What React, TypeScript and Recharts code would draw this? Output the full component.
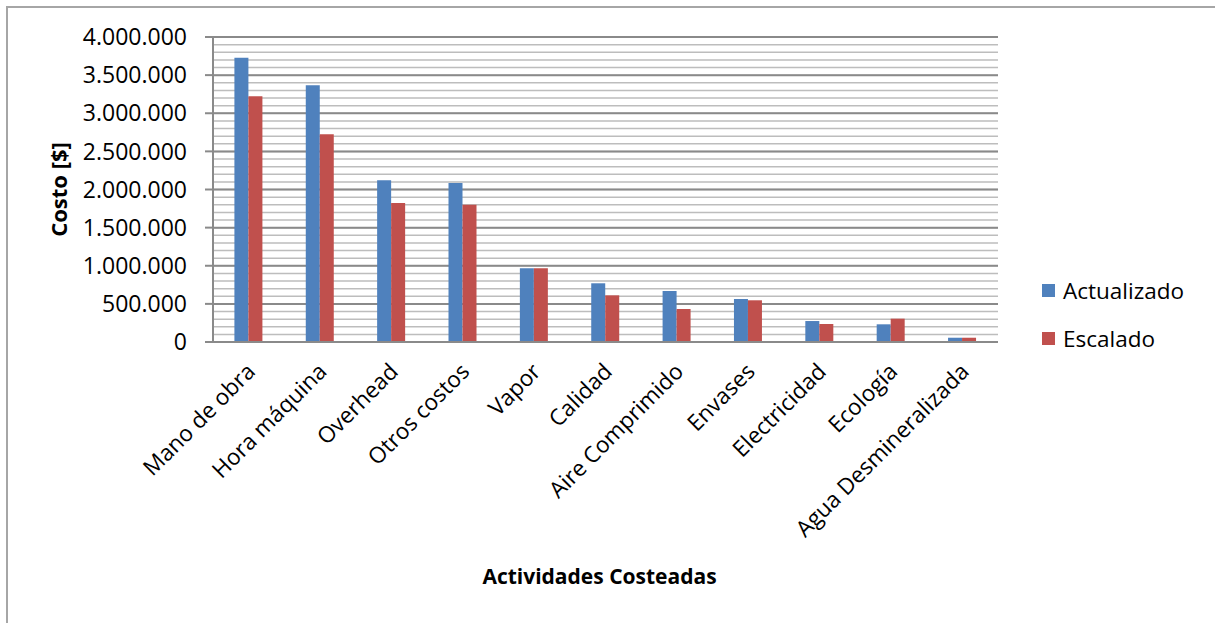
import { BarChart, Bar, XAxis, YAxis, CartesianGrid } from 'recharts';

// Costos por actividad (en $)
const actividades = [
  'Mano de obra',
  'Hora máquina',
  'Overhead',
  'Otros costos',
  'Vapor',
  'Calidad',
  'Aire Comprimido',
  'Envases',
  'Electricidad',
  'Ecología',
  'Agua Desmineralizada',
];
const actualizado = [3728000, 3366000, 2121000, 2085000, 966000, 770000, 669000, 564000, 275000, 232000, 56000];
const escalado = [3222000, 2724000, 1823000, 1801000, 966000, 612000, 433000, 547000, 236000, 306000, 56000];

const yTicks = [0, 500000, 1000000, 1500000, 2000000, 2500000, 3000000, 3500000, 4000000];
const minorLines = Array.from({ length: 41 }, (_, i) => i * 100000);

const series = [
  { key: 'actualizado', label: 'Actualizado', color: '#4F81BD' },
  { key: 'escalado', label: 'Escalado', color: '#C0504D' },
];

const FONT = '"Open Sans", Lato, sans-serif';

const data = actividades.map((a, i) => ({
  actividad: a,
  actualizado: actualizado[i],
  escalado: escalado[i],
}));

const fmt = (v: number) => String(v).replace(/\B(?=(\d{3})+(?!\d))/g, '.');

function CategoryTick({ x, y, payload }: any) {
  const px = x + 8;
  const py = y + 23;
  return (
    <text
      x={px}
      y={py}
      transform={`rotate(-45, ${px}, ${py})`}
      textAnchor="end"
      fontSize={22.5}
      fontFamily={FONT}
      fill="#000"
    >
      {payload.value}
    </text>
  );
}

export default function App() {
  return (
    <div style={{ position: 'absolute', left: 0, top: 0, width: 1215, height: 623, overflow: 'hidden', background: '#fff' }}>
      <div
        style={{
          position: 'absolute',
          left: 6,
          top: 6,
          width: 1400,
          height: 800,
          border: '2px solid #a6a6a6',
          boxSizing: 'border-box',
        }}
      />
      <div style={{ position: 'absolute', left: 0, top: 0 }}>
        <BarChart
          width={1215}
          height={623}
          data={data}
          margin={{ top: 37, right: 217, bottom: 131, left: 93 }}
          barCategoryGap="30%"
          barGap={0}
        >
          <CartesianGrid
            horizontal
            vertical={false}
            horizontalValues={minorLines}
            stroke="#bdbdbd"
            strokeWidth={1.5}
          />
          <CartesianGrid
            horizontal
            vertical={false}
            horizontalValues={yTicks}
            stroke="#8a8a8a"
            strokeWidth={2}
          />
          <XAxis
            dataKey="actividad"
            interval={0}
            height={150}
            tickLine={false}
            axisLine={{ stroke: '#8a8a8a', strokeWidth: 2 }}
            tick={<CategoryTick />}
            label={({ viewBox }: any) => (
              <text
                x={viewBox.x + viewBox.width / 2 - 6}
                y={584}
                textAnchor="middle"
                fontSize={21}
                fontWeight="bold"
                fontFamily={FONT}
                fill="#000"
              >
                Actividades Costeadas
              </text>
            )}
          />
          <YAxis
            width={120}
            domain={[0, 4000000]}
            ticks={yTicks}
            interval={0}
            tickFormatter={fmt}
            tickSize={8}
            tickMargin={18}
            tickLine={{ stroke: '#8a8a8a', strokeWidth: 2 }}
            axisLine={{ stroke: '#8a8a8a', strokeWidth: 2 }}
            tick={{ fontSize: 23, fontFamily: FONT, fill: '#000' }}
            label={({ viewBox }: any) => (
              <text
                x={58}
                y={viewBox.y + viewBox.height / 2}
                transform={`rotate(-90, 58, ${viewBox.y + viewBox.height / 2})`}
                textAnchor="middle"
                dominantBaseline="central"
                fontSize={22}
                fontWeight="bold"
                fontFamily={FONT}
                fill="#000"
              >
                Costo [$]
              </text>
            )}
          />
          {series.map((s) => (
            <Bar key={s.key} dataKey={s.key} name={s.label} fill={s.color} isAnimationActive={false} />
          ))}
        </BarChart>
      </div>
      <div style={{ position: 'absolute', left: 1042, top: 266, fontFamily: FONT, fontSize: 22.5, color: '#000' }}>
        {series.map((s) => (
          <div key={s.key} style={{ display: 'flex', alignItems: 'center', height: 48 }}>
            <span style={{ width: 13, height: 13, background: s.color, marginRight: 8, display: 'inline-block' }} />
            <span>{s.label}</span>
          </div>
        ))}
      </div>
    </div>
  );
}
